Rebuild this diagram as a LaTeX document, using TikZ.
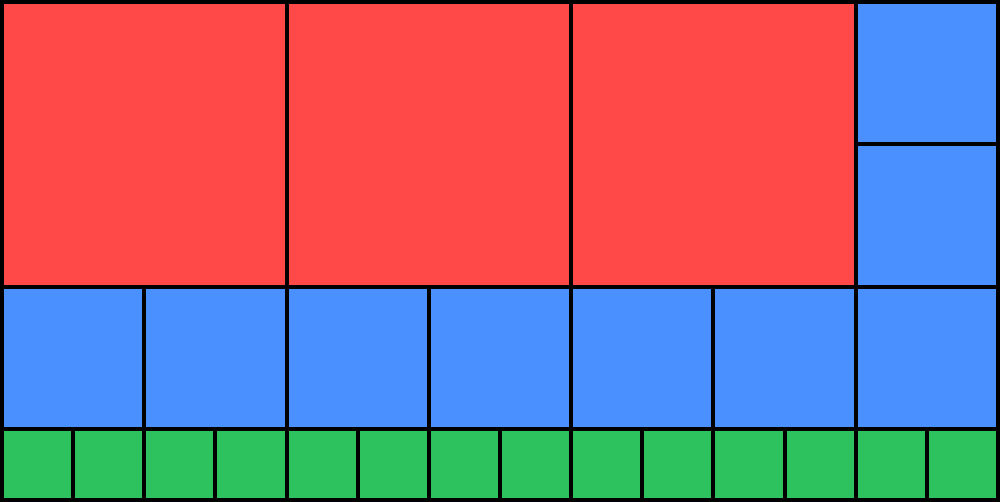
\documentclass[tikz,border=0pt]{standalone}
\definecolor{cred}{RGB}{255,72,72}
\definecolor{cblue}{RGB}{74,144,255}
\definecolor{cgreen}{RGB}{46,194,94}
\tikzset{
  cell/.style={draw=black, line width=4pt, line join=miter},
  redcell/.style={cell, fill=cred},
  bluecell/.style={cell, fill=cblue},
  greencell/.style={cell, fill=cgreen}
}
\begin{document}
\begin{tikzpicture}[x=1pt,y=-1pt]
\useasboundingbox (0,0) rectangle (1000,502);
\pgfmathsetmacro{\s}{996/7}
% red squares
\foreach \i in {0,1,2}{
  \draw[redcell] ({2+2*\i*\s},2) rectangle ({2+2*(\i+1)*\s},{2+2*\s});
}
% blue right column
\draw[bluecell] ({2+6*\s},2) rectangle (998,{2+\s});
\draw[bluecell] ({2+6*\s},{2+\s}) rectangle (998,{2+2*\s});
% blue row
\foreach \i in {0,...,6}{
  \draw[bluecell] ({2+\i*\s},{2+2*\s}) rectangle ({2+(\i+1)*\s},{2+3*\s});
}
% green row
\foreach \i in {0,...,13}{
  \draw[greencell] ({2+\i*\s/2},{2+3*\s}) rectangle ({2+(\i+1)*\s/2},500);
}
\end{tikzpicture}
\end{document}
